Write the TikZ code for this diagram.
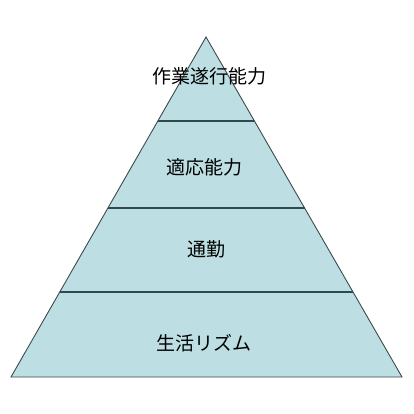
\documentclass[tikz,border=0pt]{standalone}
\usepackage{fontspec}
\newfontfamily\cjk{Noto Sans CJK JP}
\definecolor{pyrfill}{HTML}{BDDFE3}
\definecolor{pyredge}{HTML}{3C4A4C}
\definecolor{sepline}{HTML}{2E4A4C}
\begin{document}
\begin{tikzpicture}[x=1pt,y=-1pt,
  lbl/.style={font=\cjk\fontsize{19}{19}\selectfont, text=black, inner sep=0pt}]
\useasboundingbox (0,0) rectangle (414,414);
\coordinate (apex) at (206,37);
\coordinate (bl) at (11,377);
\coordinate (br) at (402,377);
\draw[fill=pyrfill, draw=pyredge, line width=0.9pt, line join=miter] (apex) -- (br) -- (bl) -- cycle;
\foreach \yy/\nm in {121/a,208/b,292/c}{
  \path (apex) -- (bl) coordinate[pos={(\yy-37)/340}] (L\nm);
  \path (apex) -- (br) coordinate[pos={(\yy-37)/340}] (R\nm);
  \draw[draw=sepline, line width=1.4pt] (L\nm) -- (R\nm);
}
\node[lbl] (t1) at (209,76) {作業遂行能力};
\node[lbl] (t2) at (204,167) {適応能力};
\node[lbl] (t3) at (206,249) {通勤};
\node[lbl] (t4) at (204,343) {生活リズム};
\end{tikzpicture}
\end{document}
